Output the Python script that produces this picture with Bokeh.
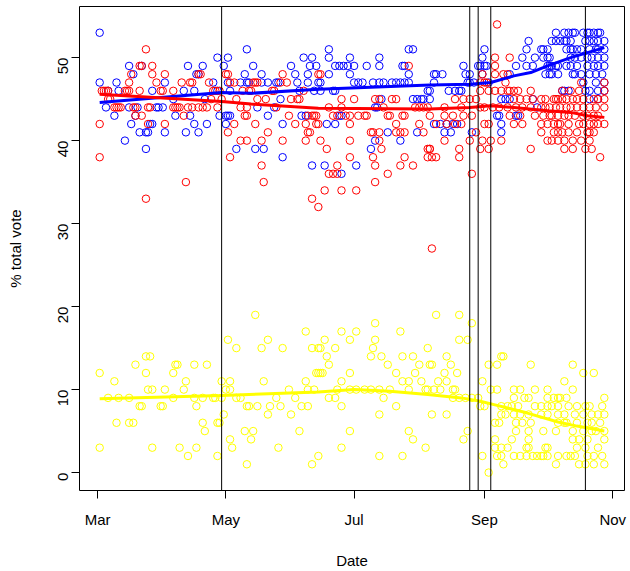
import math
from bokeh.plotting import figure
from bokeh.models import Range1d, FixedTicker, Span
from bokeh.embed import file_html
from bokeh.resources import INLINE

# x values are days since 1 March 2008
tick_days = [0, 61, 122, 184, 245]
tick_labels = ["Mar", "May", "Jul", "Sep", "Nov"]
y_ticks = [0, 10, 20, 30, 40, 50]
event_days = [59, 177, 181, 187, 232]

obama_polls = [
    (1,53),(1,47),(4,44),(5,46),(8,43),(9,47),(10,46),(13,40),(15,49),(15,44),(16,42),(17,48),(18,43),(19,44),(20,41),
    (21,49),(23,41),(24,41),(23,39),(25,42),(26,42),(26,46),(28,44),(29,44),(31,44),(32,47),(32,41),(36,45),(37,43),
    (41,46),(42,41),(43,49),(44,43),(46,46),(46,42),(47,48),(48,48),(48,41),(50,49),(51,45),(52,42),(55,47),(57,50),
    (57,46),(58,43),(60,49),(61,42),(61,43),(62,43),(63,43),(62,50),(62,47),(63,46),(66,39),(68,47),(70,48),(71,47),
    (72,47),(71,51),(74,49),(76,44),(75,39),(79,39),(78,48),(78,47),(81,47),(81,43),(84,44),(85,47),(86,47),(87,45),
    (88,42),(88,38),(92,49),(94,48),(95,47),(96,46),(97,43),(98,50),(99,43),(100,48),(100,47),(101,49),(102,50),
    (102,37),(103,46),(104,49),(105,47),(106,47),(106,46),(108,37),(109,42),(113,42),(110,51),(110,50),(110,48),
    (112,46),(113,46),(113,49),(115,49),(117,49),(119,49),(122,49),(116,36),(115,43),(116,43),(120,50),(120,48),
    (122,47),(124,47),(126,47),(123,37),(128,49),(130,39),(131,47),(134,47),(136,47),(132,44),(133,44),(132,40),
    (134,50),(134,49),(135,45),(138,41),(140,47),(142,47),(144,47),(146,47),(148,47),(144,40),(145,49),(146,49),
    (148,51),(150,51),(148,48),(150,45),(152,45),(154,45),(155,45),(158,45),(152,41),(157,46),(158,46),(160,48),
    (160,42),(163,42),(166,42),(169,42),
    (161,48),(164,48),(160,47),(165,41),(168,41),(167,46),(170,46),(172,46),(173,46),(171,42),(174,49),(175,48),
    (177,48),(176,47),(177,47),(179,47),(178,41),(181,49),(182,49),(184,49),(185,49),(183,50),(184,51),(183,48),
    (186,47),(190,43),(191,43),(192,42),(192,41),(192,45),(194,45),(196,45),(199,49),(196,48),(199,43),(200,43),
    (202,50),(204,51),(205,52),(204,49),(207,49),(208,50),(207,45),(209,44),(211,51),(212,51),(214,51),(212,50),
    (214,50),(215,50),(214,49),(215,49),(216,49),(218,49),(219,49),(213,48),(215,48),(216,48),(219,48),(216,52),
    (218,52),(218,53),(220,52),(222,52),(223,52),(225,52),(222,53),(224,53),(226,53),(227,53),(223,51),(225,51),
    (226,51),(228,51),(230,51),(225,50),(227,50),(230,50),(226,48),(227,48),(230,48),(223,49),(225,49),(228,49),
    (221,46),(222,46),(224,46),(231,53),(233,53),(234,53),(236,53),(238,53),(239,53),(232,52),(234,52),(236,52),
    (238,52),(241,52),(234,51),(237,51),(238,51),(241,51),(233,50),(235,50),(238,50),(241,50),(233,49),(236,49),
    (238,49),(241,49),(234,48),(237,48),(240,48),(231,47),(237,47),(241,47),(232,46),(234,46),(238,46),(241,46),
    (234,45),(238,45),
]

mccain_polls = [
    (1,42),(1,38),(2,46),(3,46),(4,46),(5,46),(5,45),(6,45),(8,44),(9,44),(10,44),(11,44),(13,46),(14,46),(15,46),
    (15,47),(16,48),(17,44),(18,44),(18,43),(20,49),(21,49),(20,46),(21,43),(23,51),(23,33),(24,42),(24,44),(25,44),
    (26,49),(26,48),(28,47),(30,46),(31,46),(32,48),(32,42),(36,46),(36,44),(37,44),(38,44),(39,44),(40,47),(41,43),
    (42,35),(44,47),(45,47),(43,44),(45,44),(48,44),(48,48),(49,48),(50,44),(52,44),(53,47),(54,45),(55,46),(56,46),
    (57,44),(58,46),(59,45),(61,48),(62,48),(62,41),(63,38),(63,47),(65,47),(65,42),(66,45),(68,44),(68,40),(69,46),
    (70,43),(71,43),(71,40),(71,44),(72,46),(73,46),(74,47),(75,47),(76,47),(75,42),(76,45),(78,40),(78,37),(79,35),
    (80,45),(81,41),(83,46),(84,46),(85,44),(87,47),(88,48),(88,40),(90,47),(91,43),(92,45),(94,42),(95,45),(96,45),
    (98,46),(99,42),(99,40),(100,41),(101,41),(100,43),(102,43),(103,43),(104,43),(102,33),(105,32),(104,42),
    (105,42),(105,48),(106,40),(106,48),(108,34),(109,39),(110,36),(112,36),(114,36),(110,44),(112,43),(114,43),
    (114,37),(116,45),(116,44),(116,34),(118,43),(120,43),(120,42),(120,40),(120,38),(122,45),(123,34),(124,43),
    (127,43),(128,43),(130,41),(131,41),(134,41),(131,38),(132,37),(132,35),(132,45),(134,45),(134,40),(135,39),
    (136,44),(138,36),(138,43),(139,43),(140,45),(142,45),(142,42),(142,41),(144,41),(146,41),(144,37),(145,43),
    (146,43),(146,38),(148,49),(150,37),(151,44),(153,44),(153,42),(155,41),(155,44),(157,44),(157,39),(158,39),
    (157,38),(159,38),(159,27),(172,38),
    (190,54),(189,50),(196,50),(189,49),(189,48),(183,48),(182,47),(184,47),(185,47),(193,48),(195,48),(182,46),
    (186,46),(189,46),(192,46),(195,46),(198,46),(170,45),(174,45),(177,45),(180,45),(165,44),(173,44),(182,44),
    (184,44),(188,44),(191,44),(158,43),(165,43),(169,43),(174,43),(178,43),(161,42),(166,42),(170,42),(173,42),
    (184,42),(186,42),(180,41),(165,40),(177,40),(183,40),(187,40),(192,40),(158,39),(172,39),(182,39),(186,39),
    (206,39),(161,38),(178,36),
    (198,45),(201,45),(204,45),(207,45),(211,45),(213,45),(217,45),(218,45),(219,45),(221,45),(223,45),(226,45),
    (228,45),(231,45),(236,45),(238,45),(241,45),
    (195,44),(199,44),(202,44),(206,44),(211,44),(213,44),(215,44),(218,44),(220,44),(223,44),(225,44),(228,44),
    (231,44),(234,44),(237,44),(241,44),
    (196,43),(201,43),(208,43),(212,43),(215,43),(216,43),(219,43),(222,43),(224,43),(227,43),(231,43),(233,43),
    (236,43),(238,43),
    (198,42),(202,42),(211,42),(214,42),(217,42),(219,42),(220,42),(224,42),(229,42),(231,42),(234,42),(236,42),
    (238,42),(241,42),
    (211,41),(217,41),(219,41),(221,41),(224,41),(228,41),(233,41),(234,41),(236,41),
    (214,40),(216,40),(219,40),(222,40),(226,40),(230,40),(234,40),
    (222,39),(226,39),(232,39),(235,39),(239,38),
    (196,46),(200,46),(206,46),(221,46),(225,46),(229,46),(241,46),(194,47),(230,47),(241,47),
]

other_polls = [
    (1,12),(1,3),(5,9),(8,11),(9,6),(10,9),(15,9),(15,6),(17,6),(18,13),(20,8),(21,8),(23,14),(25,14),(23,12),
    (24,10),(26,10),(26,3),(30,8),(31,8),(32,10),(36,12),(36,9),(37,13),(38,13),(39,3),(41,10),(42,11),(43,2),
    (46,13),(46,9),(47,8),(47,3),(50,9),(50,6),(51,5),(52,13),(55,9),(56,9),(57,6),(58,6),(57,2),(59,11),(59,9),
    (60,7),(61,10),(63,10),(62,16),(63,11),(63,4),(64,3),(66,15),(66,9),(68,9),(70,5),(71,8),(72,8),(71,1),(73,4),
    (74,5),(75,19),(76,8),(78,15),(79,11),(81,16),(81,7),(82,8),(85,9),(86,3),(87,8),(88,15),(91,10),(92,7),(94,9),
    (96,5),(97,8),(99,17),(99,11),(100,10),(100,8),(102,15),(102,1),(103,10),(104,12),(105,12),(105,15),(105,2),
    (106,15),(108,16),(106,12),(107,12),(109,14),(110,13),(110,9),(113,9),(113,15),(114,10),(116,17),(116,11),
    (116,8),(116,3),(120,16),(120,12),(120,10),(123,10),(127,10),(130,10),(134,10),(139,10),(120,5),(123,17),
    (130,14),(131,15),(132,18),(132,16),(134,7),(134,2),(135,14),(136,9),(138,13),(142,12),(142,8),(144,17),
    (145,14),(145,11),(145,2),(148,11),(148,10),(148,5),(150,14),(150,4),(151,12),(153,13),(154,11),(156,10),
    (157,10),(156,3),(157,15),(158,13),(159,13),(159,7),(160,10),(161,19),(162,11),(163,10),(165,12),(166,14),
    (166,11),(166,7),(168,13),(169,10),(170,10),(169,9),(171,12),(172,19),(172,16),(172,9),(175,9),(174,4),
    (176,16),(176,5),(178,18),(178,9),(181,9),(182,8),(184,8),(183,11),(183,2),(186,13),(186,0),(187,10),(190,10),
    (190,13),(192,14),(193,14),
    (189,6),(191,6),(189,4),(189,3),(192,3),(195,3),(190,2),(192,2),(193,1),(192,8),(195,8),(197,8),(200,8),
    (192,7),(194,7),(198,10),(201,10),(197,4),(198,9),(203,9),(205,9),(198,7),(201,7),(205,7),(199,6),(202,6),
    (206,6),(199,5),(205,5),(198,2),(201,2),(204,2),(207,2),(209,2),(211,2),(212,2),(214,2),(204,3),(205,3),
    (213,3),(214,3),(205,4),(206,13),(208,10),(208,8),(211,8),(214,8),(216,8),(219,8),(224,8),(228,8),(211,7),
    (214,7),(219,7),(222,7),(227,7),(231,7),(235,7),(238,7),(241,7),(212,5),(218,5),(226,5),(231,5),(235,5),
    (237,5),(241,5),(214,10),(214,9),(217,9),(219,9),(220,9),(223,9),(218,1),(219,6),(222,6),(223,6),(228,6),
    (233,6),(235,6),(239,6),(219,2),(223,2),(225,2),(227,2),(233,2),(236,2),(240,2),(222,11),(226,13),(226,10),
    (226,4),(229,4),(233,4),(241,4),(228,3),(232,3),(238,3),(229,1),(232,1),(236,1),(241,1),(231,12),(236,12),
    (232,8),(234,8),(240,8),(241,9),
]

# smoothed trend lines
obama_trend_day = [1, 59, 73, 105, 158, 177, 187, 198, 206, 214, 225, 233, 241]
obama_trend_pct = [44.6, 45.8, 45.7, 46.2, 46.7, 46.8, 47.0, 47.8, 48.2, 49.0, 50.0, 50.6, 51.2]
mccain_trend_day = [1, 59, 73, 105, 158, 177, 187, 198, 214, 225, 233, 241]
mccain_trend_pct = [45.6, 44.7, 44.4, 43.9, 43.8, 44.0, 44.2, 44.0, 43.6, 43.4, 43.0, 42.8]
other_trend_day = [1, 59, 105, 122, 139, 157, 173, 182, 190, 204, 219, 228, 241]
other_trend_pct = [8.9, 9.3, 9.7, 10.0, 9.8, 9.4, 9.0, 8.6, 8.1, 7.2, 6.1, 5.6, 5.0]

FONT = "Liberation Sans"

all_days = [d for d, _ in obama_polls + mccain_polls + other_polls]
all_vals = [v for _, v in obama_polls + mccain_polls + other_polls]
xspan = max(all_days) - min(all_days)
yspan = max(all_vals) - min(all_vals)

p = figure(
    width=630, height=571,
    output_backend="svg", toolbar_location=None,
    x_range=Range1d(min(all_days) - 0.04 * xspan, max(all_days) + 0.04 * xspan),
    y_range=Range1d(min(all_vals) - 0.04 * yspan, max(all_vals) + 0.04 * yspan),
    min_border_left=79, min_border_right=6, min_border_top=6, min_border_bottom=76,
    background_fill_color="white", border_fill_color="white",
)
p.outline_line_color = "black"
p.outline_line_width = 1
p.xgrid.visible = False
p.ygrid.visible = False

for ax in (p.xaxis[0], p.yaxis[0]):
    ax.axis_line_color = None
    ax.major_tick_line_color = "black"
    ax.major_tick_in = 0
    ax.major_tick_out = 8
    ax.minor_tick_line_color = None
    ax.major_label_text_font = FONT
    ax.major_label_text_font_size = "15px"
    ax.major_label_text_color = "black"
    ax.axis_label_text_font = FONT
    ax.axis_label_text_font_size = "15px"
    ax.axis_label_text_font_style = "normal"
    ax.axis_label_text_color = "black"

p.xaxis.ticker = FixedTicker(ticks=tick_days)
p.xaxis.major_label_overrides = {d: lab for d, lab in zip(tick_days, tick_labels)}
p.xaxis.axis_label = "Date"
p.xaxis.major_label_standoff = 12
p.xaxis.axis_label_standoff = 21

p.yaxis.ticker = FixedTicker(ticks=y_ticks)
p.yaxis.axis_label = "% total vote"
p.yaxis.major_label_orientation = math.pi / 2
p.yaxis.major_label_standoff = 8
p.yaxis.axis_label_standoff = 27

for polls, col in ((obama_polls, "#0000FF"), (mccain_polls, "#FF0000"), (other_polls, "#FFFF00")):
    p.scatter([d for d, _ in polls], [v for _, v in polls], marker="circle", size=7.5,
              fill_color=None, line_color=col, line_width=1)

for d in event_days:
    p.add_layout(Span(location=d, dimension="height", line_color="black", line_width=1))

p.line(obama_trend_day, obama_trend_pct, line_color="#0000FF", line_width=3)
p.line(mccain_trend_day, mccain_trend_pct, line_color="#FF0000", line_width=3)
p.line(other_trend_day, other_trend_pct, line_color="#FFFF00", line_width=3)

open("out.html", "w").write(file_html(p, INLINE))
